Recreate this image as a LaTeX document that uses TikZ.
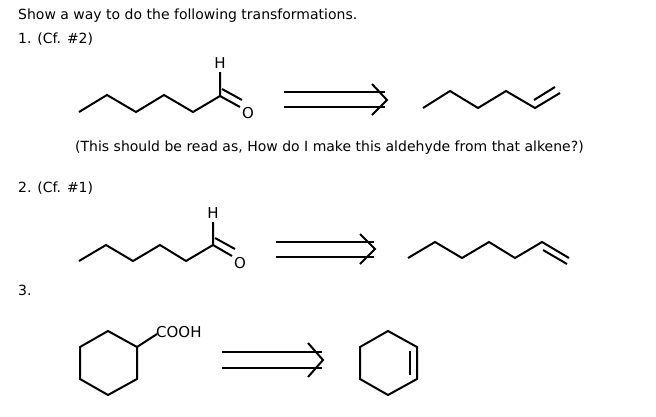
\documentclass[tikz,border=0pt]{standalone}
\usepackage{fontspec}
\setmainfont{DejaVu Sans}
\begin{document}
\begin{tikzpicture}[x=1pt,y=-1pt,bond/.style={line width=2pt,line join=miter},
 txt/.style={anchor=base west,inner sep=0,font=\fontsize{14}{16}\selectfont},
 atom/.style={inner sep=0,font=\fontsize{15}{16}\selectfont}]
\useasboundingbox (0,0) rectangle (656,416);
\node[txt] (t1) at (18,19) {Show a way to do the following transformations.};
\node[txt] (t2) at (18,43) {1. (Cf. \#2)};
\node[txt] (t3) at (75,151) {(This should be read as, How do I make this aldehyde from that alkene?)};
\node[txt] (t4) at (18,192) {2. (Cf. \#1)};
\node[txt] (t5) at (18,295) {3.};
% row 1
\draw[bond] (79,112)--(107,95)--(136,112)--(164,95)--(193,112)--(220,96)--(220,72);
\node[atom] (h1) at (220,63) {H};
\node[atom] (o1) at (248,113) {O};
\draw[bond] (220,96)--(240,107);
\draw[bond] (222,89)--(242,100);
\draw[bond] (284,92)--(385,92) (284,107)--(385,107);
\draw[bond] (372,84)--(387,100)--(372,115);
\draw[bond] (423,108)--(450,91)--(478,108)--(506,91)--(535,108)--(560,93);
\draw[bond] (534,100)--(555,87);
% row 2
\draw[bond] (79,261)--(106,245)--(133,261)--(160,245)--(186,261)--(213,245)--(213,222);
\node[atom] (h2) at (213,213) {H};
\node[atom] (o2) at (240,263) {O};
\draw[bond] (213,245)--(232,256);
\draw[bond] (215,238)--(235,249);
\draw[bond] (276,242)--(374,242) (276,257)--(374,257);
\draw[bond] (360,234)--(375,249)--(360,264);
\draw[bond] (408,258)--(435,242)--(462,258)--(489,242)--(515,258)--(542,242)--(569,258);
\draw[bond] (543,250)--(567,264);
% row 3
\draw[bond] (108,331)--(137,347)--(137,379)--(108,395)--(80,379)--(80,347)--cycle;
\draw[bond] (137,347)--(157,334);
\node[atom,anchor=west] (c3) at (156,332) {COOH};
\draw[bond] (222,352)--(322,352) (222,368)--(322,368);
\draw[bond] (308,343)--(323,360)--(308,377);
\draw[bond] (388,331)--(417,347)--(417,379)--(388,395)--(360,379)--(360,347)--cycle;
\draw[bond] (410,351)--(410,375);
\end{tikzpicture}
\end{document}
